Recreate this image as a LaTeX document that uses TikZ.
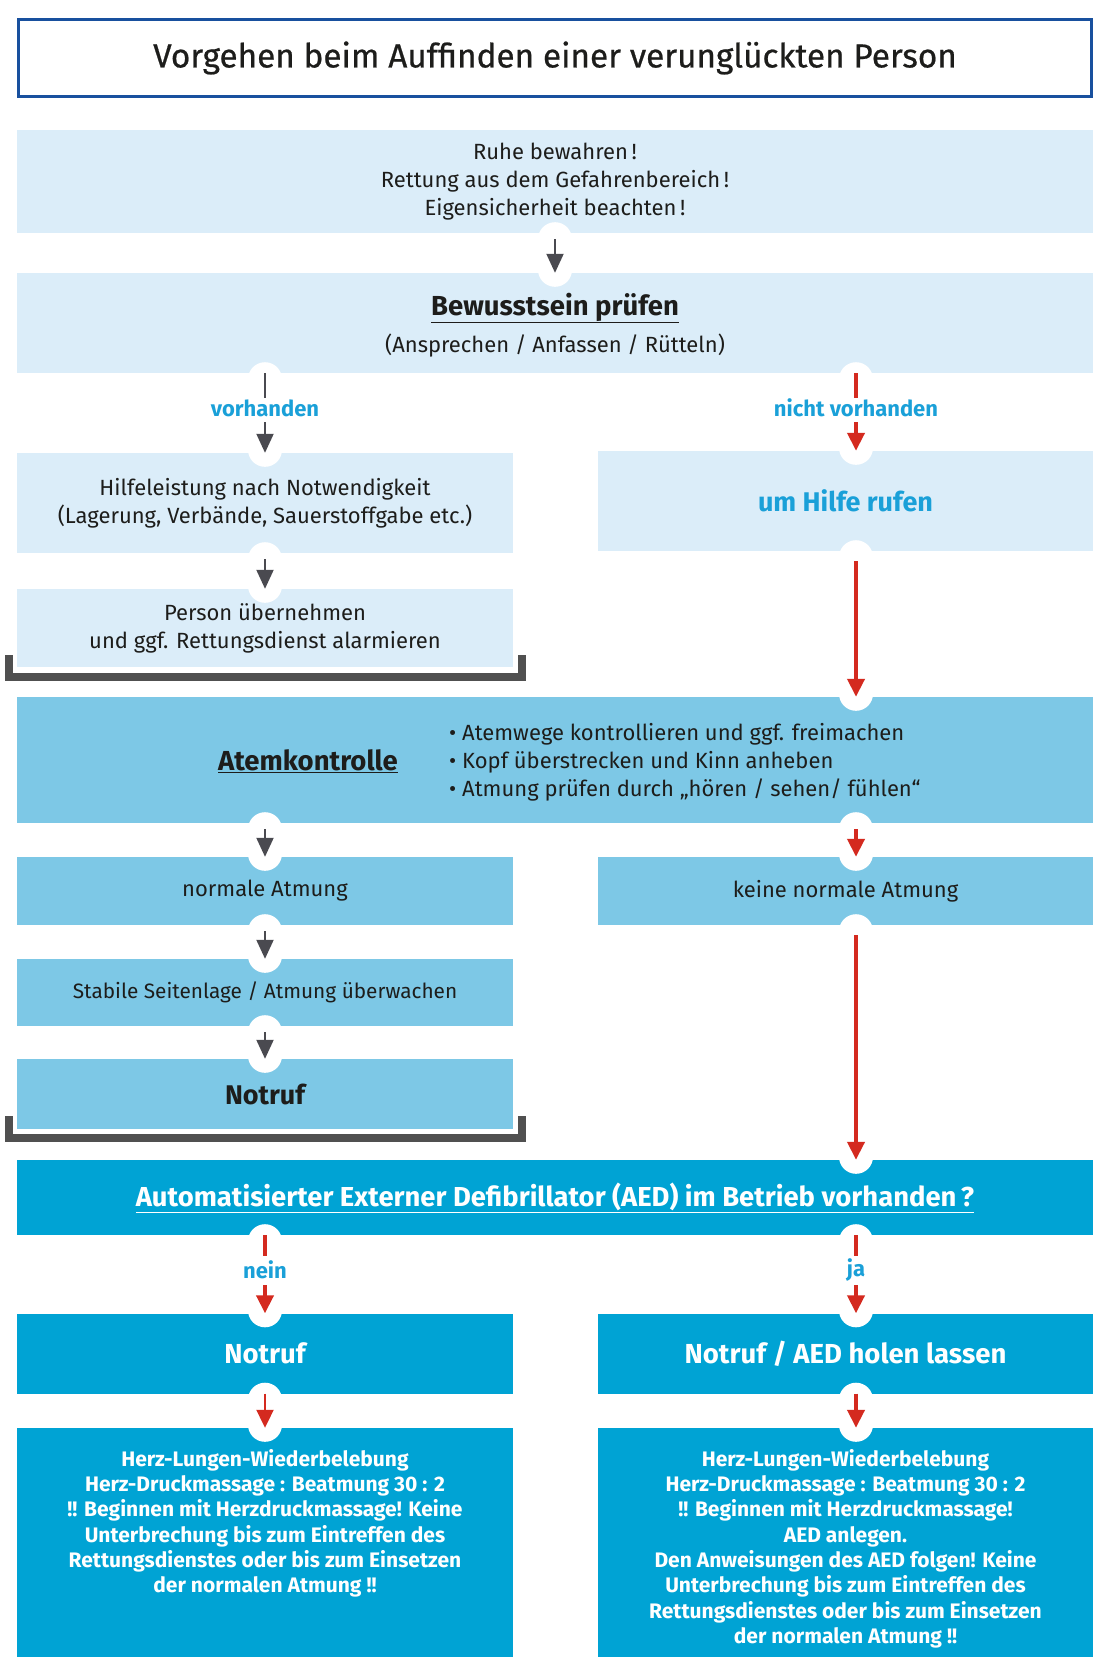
\documentclass[tikz,border=0pt]{standalone}
\usepackage{fontspec}
\setmainfont{Fira Sans}
\newfontfamily\headingfont[FakeBold=0.6]{Fira Sans}
\usetikzlibrary{arrows.meta,calc}

\definecolor{titleblue}{RGB}{24,80,158}
\definecolor{paleblue}{RGB}{219,237,249}
\definecolor{midblue}{RGB}{125,200,230}
\definecolor{strongblue}{RGB}{0,163,212}
\definecolor{labelcyan}{RGB}{26,160,216}
\definecolor{arrowgray}{RGB}{74,74,80}
\definecolor{arrowred}{RGB}{212,42,31}
\definecolor{bracketgray}{RGB}{80,80,80}
\definecolor{inkblack}{RGB}{29,29,27}

\begin{document}
\begin{tikzpicture}[x=1pt,y=-1pt,
  every node/.style={inner sep=0pt, text=inkblack},
  panel/.style={rectangle, draw=none, align=center},
  pale/.style={panel, fill=paleblue},
  mid/.style={panel, fill=midblue},
  strong/.style={panel, fill=strongblue},
  leftcol/.style={minimum width=496pt},
  rightcol/.style={minimum width=495pt},
  fullrow/.style={minimum width=1076pt},
  body/.style={font=\fontsize{22}{28}\selectfont},
  headline/.style={font=\fontsize{27.5}{32}\selectfont\bfseries},
  whitebold/.style={text=white, font=\fontsize{21}{25.3}\selectfont\bfseries},
  branchlabel/.style={text=labelcyan, font=\fontsize{22}{24}\selectfont\bfseries, minimum height=30pt},
  notch/.style={fill=white, rounded corners=17pt},
  grayarrow/.style={draw=arrowgray, line width=2pt, -{Triangle[width=17pt,length=19pt]}},
  grayline/.style={draw=arrowgray, line width=2pt},
  redarrow/.style={draw=arrowred, line width=4pt, -{Triangle[width=17pt,length=18pt]}},
  thinred/.style={draw=arrowred, line width=2pt, -{Triangle[width=17pt,length=18pt]}},
  redline/.style={draw=arrowred, line width=4pt},
  bracket/.style={draw=bracketgray, line width=8pt, miter limit=10}
]
\useasboundingbox (0,0) rectangle (1097,1664);

% helper columns for the connectors
\coordinate (mx) at (555,0);
\coordinate (lx) at (265,0);
\coordinate (rx) at (856,0);

% title
\node[draw=titleblue, line width=3pt, minimum width=1073pt, minimum height=77pt,
      font=\headingfont\fontsize{33.3}{38}\selectfont] (title) at (555,58)
  {Vorgehen beim Auffinden einer verunglückten Person};

% first steps
\node[pale, fullrow, minimum height=103pt, body] (calm) at (555,181.5)
  {Ruhe bewahren\,!\\Rettung aus dem Gefahrenbereich\,!\\Eigensicherheit beachten\,!};

\node[pale, fullrow, minimum height=100pt] (conscious) at (555,323) {};
\node[headline] (consciousT) at (555,308) {\underline{Bewusstsein prüfen}};
\node[body] (consciousS) at (555,346) {(Ansprechen / Anfassen / Rütteln)};

% conscious branch
\node[pale, leftcol, minimum height=100pt, body] (help) at (265,503)
  {Hilfeleistung nach Notwendigkeit\\(Lagerung, Verbände, Sauerstoffgabe etc.)};
\node[pale, rightcol, minimum height=100pt, text=labelcyan,
      font=\fontsize{27}{30}\selectfont\bfseries] (call) at (845.5,501) {um Hilfe rufen};
\node[pale, leftcol, minimum height=78pt, body] (handover) at (265,628)
  {Person übernehmen\\und ggf. Rettungsdienst alarmieren};

% breathing check
\node[mid, fullrow, minimum height=126pt] (breath) at (555,760) {};
\node[headline] (breathT) at (308,761) {\underline{Atemkontrolle}};
\node[body, align=left, anchor=west] (breathL) at (449,762)
  {• Atemwege kontrollieren und ggf. freimachen\\
   • Kopf überstrecken und Kinn anheben\\
   • Atmung prüfen durch „hören / sehen/ fühlen“};

\node[mid, leftcol, minimum height=68pt, body] (normal) at (265,891) {normale Atmung};
\node[mid, rightcol, minimum height=68pt, body] (abnormal) at (845.5,891) {keine normale Atmung};
\node[mid, leftcol, minimum height=67pt, font=\fontsize{20.8}{28}\selectfont] (recovery) at (265,992.5)
  {Stabile Seitenlage / Atmung überwachen};
\node[mid, leftcol, minimum height=70pt, font=\fontsize{27}{30}\selectfont\bfseries] (call1) at (265,1094) {Notruf};

% AED
\node[strong, fullrow, minimum height=75pt, text=white,
      font=\fontsize{27.4}{30}\selectfont\bfseries] (aed) at (555,1197.5)
  {\underline{Automatisierter Externer Defibrillator (AED) im Betrieb vorhanden\,?}};
\node[strong, leftcol, minimum height=80pt, text=white,
      font=\fontsize{27.5}{30}\selectfont\bfseries] (call2) at (265,1353.5) {Notruf};
\node[strong, rightcol, minimum height=80pt, text=white,
      font=\fontsize{27.5}{30}\selectfont\bfseries] (call3) at (845.5,1353.5) {Notruf / AED holen lassen};
\node[strong, leftcol, minimum height=229pt] (cpr1) at (265,1542.5) {};
\node[strong, rightcol, minimum height=229pt] (cpr2) at (845.5,1542.5) {};
\node[whitebold, align=center, anchor=north] (cpr1T) at (265,1449)
  {Herz-Lungen-Wiederbelebung\\Herz-Druckmassage : Beatmung 30 : 2\\
   !! Beginnen mit Herzdruckmassage! Keine\\Unterbrechung bis zum Eintreffen des\\
   Rettungsdienstes oder bis zum Einsetzen\\der normalen Atmung !!};
\node[whitebold, align=center, anchor=north] (cpr2T) at (845.5,1449)
  {Herz-Lungen-Wiederbelebung\\Herz-Druckmassage : Beatmung 30 : 2\\
   !! Beginnen mit Herzdruckmassage!\\AED anlegen.\\
   Den Anweisungen des AED folgen! Keine\\Unterbrechung bis zum Eintreffen des\\
   Rettungsdienstes oder bis zum Einsetzen\\der normalen Atmung !!};

% brackets closing the two side branches
\draw[bracket] ($(handover.south west)+(-8,-12)$) -- ($(handover.south west)+(-8,10)$)
  -- ($(handover.south east)+(8.5,10)$) -- ($(handover.south east)+(8.5,-12)$);
\draw[bracket] ($(call1.south west)+(-8,-13)$) -- ($(call1.south west)+(-8,9)$)
  -- ($(call1.south east)+(8.5,9)$) -- ($(call1.south east)+(8.5,-13)$);

% white notches around the connectors
\foreach \a/\b/\c in {calm/conscious/mx, help/handover/lx, call/breath/rx,
                      breath/normal/lx, breath/abnormal/rx, normal/recovery/lx,
                      recovery/call1/lx, abnormal/aed/rx, conscious/help/lx,
                      conscious/call/rx, aed/call2/lx, aed/call3/rx,
                      call2/cpr1/lx, call3/cpr2/rx}
  \fill[notch] ($(\a.south -| \c)+(-17,-11)$) rectangle ($(\b.north -| \c)+(17,14)$);

% connectors
\draw[grayarrow] ($(calm.south -| mx)+(0,6)$) -- (conscious.north -| mx);
\draw[grayarrow] ($(help.south -| lx)+(0,6)$) -- (handover.north -| lx);
\draw[redarrow] ($(call.south -| rx)+(0,10)$) -- (breath.north -| rx);
\draw[grayarrow] ($(breath.south -| lx)+(0,6)$) -- (normal.north -| lx);
\draw[redarrow] ($(breath.south -| rx)+(0,6)$) -- (abnormal.north -| rx);
\draw[grayarrow] ($(normal.south -| lx)+(0,6)$) -- (recovery.north -| lx);
\draw[grayarrow] ($(recovery.south -| lx)+(0,6)$) -- (call1.north -| lx);
\draw[redarrow] ($(abnormal.south -| rx)+(0,10)$) -- (aed.north -| rx);
\draw[thinred] (call2.south -| lx) -- (cpr1.north -| lx);
\draw[redarrow] (call3.south -| rx) -- (cpr2.north -| rx);

% labelled branches
\node[branchlabel] (yes1) at (265,408) {vorhanden};
\node[branchlabel] (no1) at (856,408) {nicht vorhanden};
\draw[grayline] (conscious.south -| yes1) -- ($(yes1.north)+(0,5)$);
\draw[grayarrow] ($(yes1.south)+(0,-1)$) -- (help.north -| yes1);
\draw[redline] (conscious.south -| no1) -- ($(no1.north)+(0,5)$);
\draw[redarrow] ($(no1.south)+(0,-1)$) -- (call.north -| no1);

\node[branchlabel] (no2) at (265,1270) {nein};
\node[branchlabel] (yes2) at (856,1270) {ja};
\draw[redline] (aed.south -| no2) -- ($(no2.north)+(0,1)$);
\draw[redarrow] ($(no2.south)+(0,0)$) -- (call2.north -| no2);
\draw[redline] (aed.south -| yes2) -- ($(yes2.north)+(0,1)$);
\draw[redarrow] ($(yes2.south)+(0,0)$) -- (call3.north -| yes2);
\end{tikzpicture}
\end{document}
